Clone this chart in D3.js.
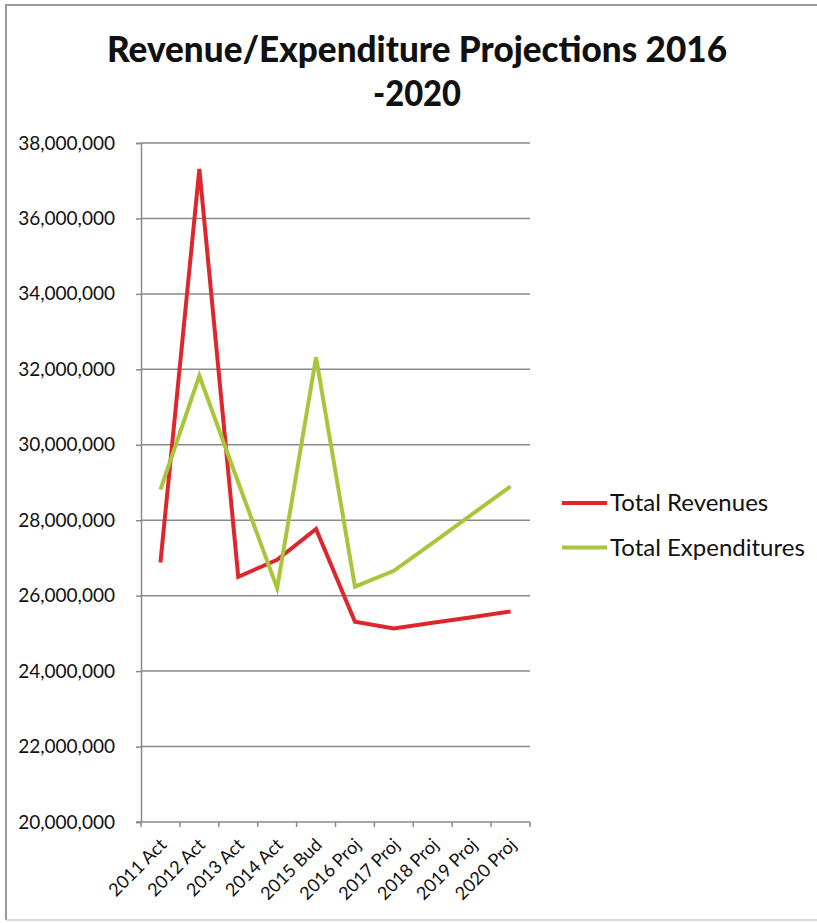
<!DOCTYPE html>
<meta charset="utf-8">
<html lang="en">
<head>
	<meta charset="utf-8">
	<title>Revenue/Expenditure Projections 2016-2020</title>
	<script type="text/javascript" src="https://cdn.jsdelivr.net/npm/d3@7"></script>
	<style type="text/css">
		body { margin: 0; background: #fff; }
		text { font-family: Lato, "Open Sans", sans-serif; fill: #111; }
	</style>
</head>
<body>
	<script type="text/javascript">
// DATA
		var categories = ["2011 Act", "2012 Act", "2013 Act", "2014 Act", "2015 Bud",
			"2016 Proj", "2017 Proj", "2018 Proj", "2019 Proj", "2020 Proj"];
		var revenues = [26880000, 37310000, 26500000, 26950000, 27770000,
			25310000, 25130000, 25280000, 25430000, 25580000];
		var expenditures = [28810000, 31830000, 29000000, 26200000, 32320000,
			26240000, 26660000, 27400000, 28150000, 28900000];
		var yTicks = [20000000, 22000000, 24000000, 26000000, 28000000,
			30000000, 32000000, 34000000, 36000000, 38000000];
		var seriesNames = ["Total Revenues", "Total Expenditures"];
		var seriesColors = ["#de262c", "#a8c63a"];

// SIZE
		var w = 817;
		var h = 923;

		var svg = d3.select("body")
			.append("svg")
			.attr("width", w)
			.attr("height", h);

// FRAME (scanned border)
		svg.append("path")
			.attr("d", "M6,920 V5 H817")
			.attr("fill", "none")
			.attr("stroke", "#9a9a9a")
			.attr("stroke-width", 2);
		svg.append("line")
			.attr("x1", 6).attr("x2", 817)
			.attr("y1", 920).attr("y2", 920)
			.attr("stroke", "#d0d0d0")
			.attr("stroke-width", 1.5);

// TITLE
		svg.append("text")
			.attr("x", 417).attr("y", 62)
			.attr("text-anchor", "middle")
			.attr("font-size", "36px")
			.attr("font-weight", "900")
			.attr("textLength", 620)
			.attr("lengthAdjust", "spacingAndGlyphs")
			.text("Revenue/Expenditure Projections 2016");
		svg.append("text")
			.attr("x", 417).attr("y", 106)
			.attr("text-anchor", "middle")
			.attr("font-size", "36px")
			.attr("font-weight", "900")
			.attr("textLength", 88)
			.attr("lengthAdjust", "spacingAndGlyphs")
			.text("-2020");

// SCALES
		var x = d3.scaleBand()
			.domain(categories)
			.range([141, 530]);
		var y = d3.scaleLinear()
			.domain([20000000, 38000000])
			.range([822, 143]);
		var cx = function(d) { return x(d) + x.bandwidth() / 2; };

// GRIDLINES
		svg.selectAll("line.grid")
			.data(yTicks.slice(1))
			.enter()
			.append("line")
			.attr("class", "grid")
			.attr("x1", 141).attr("x2", 530)
			.attr("y1", function(d) { return y(d); })
			.attr("y2", function(d) { return y(d); })
			.attr("stroke", "#8a8a8a")
			.attr("stroke-width", 1.5);

// Y AXIS
		var yAxis = d3.axisLeft(y)
			.tickValues(yTicks)
			.tickSize(5)
			.tickPadding(21)
			.tickFormat(d3.format(","));
		var gy = svg.append("g")
			.attr("transform", "translate(141,0)")
			.call(yAxis);
		gy.select(".domain").attr("stroke", "#8a8a8a").attr("stroke-width", 1.5);
		gy.selectAll(".tick line").attr("stroke", "#8a8a8a").attr("stroke-width", 1.5);
		gy.selectAll(".tick text")
			.attr("font-family", "Lato, sans-serif")
			.attr("font-size", "19px")
			.attr("fill", "#111");

// X AXIS
		var gx = svg.append("g")
			.attr("transform", "translate(0,822)");
		gx.append("line")
			.attr("x1", 136).attr("x2", 530)
			.attr("stroke", "#8a8a8a")
			.attr("stroke-width", 1.5);
		gx.selectAll("line.xtick")
			.data(categories.concat(["end"]))
			.enter()
			.append("line")
			.attr("class", "xtick")
			.attr("x1", function(d, i) { return 141 + i * x.step(); })
			.attr("x2", function(d, i) { return 141 + i * x.step(); })
			.attr("y1", 0).attr("y2", 5)
			.attr("stroke", "#8a8a8a")
			.attr("stroke-width", 1.5);
		gx.selectAll("text")
			.data(categories)
			.enter()
			.append("text")
			.attr("transform", function(d) {
				return "translate(" + (cx(d) + 7) + ",24) rotate(-45)";
			})
			.attr("text-anchor", "end")
			.attr("font-size", "18px")
			.text(function(d) { return d; });

// LINES
		var line = d3.line()
			.x(function(d, i) { return cx(categories[i]); })
			.y(function(d) { return y(d); });

		[revenues, expenditures].forEach(function(series, k) {
			svg.append("path")
				.datum(series)
				.attr("d", line)
				.attr("fill", "none")
				.attr("stroke", seriesColors[k])
				.attr("stroke-width", 4)
				.attr("stroke-linejoin", "miter");
		});

// LEGEND
		var legend = svg.selectAll("g.legend")
			.data(seriesNames)
			.enter()
			.append("g")
			.attr("class", "legend")
			.attr("transform", function(d, i) {
				return "translate(562," + (503 + i * 44.5) + ")";
			});
		legend.append("line")
			.attr("x1", 0).attr("x2", 45)
			.attr("stroke", function(d, i) { return seriesColors[i]; })
			.attr("stroke-width", 4);
		legend.append("text")
			.attr("x", 48).attr("y", 8)
			.attr("font-size", "24px")
			.text(function(d) { return d; });
	</script>
</body>
</html>
